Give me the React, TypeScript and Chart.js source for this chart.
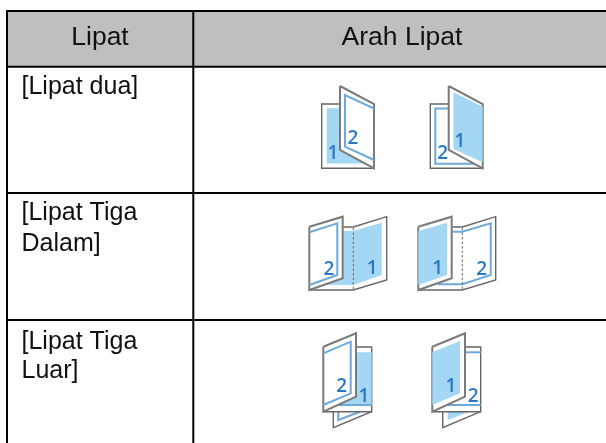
import React, { useEffect, useRef } from "react";
import { Chart, registerables } from "chart.js";

Chart.register(...registerables);

type P = [number, number];

const BLUE_FILL = "#a3d7f3";
const BLUE_LINE = "#6ea9d9";
const DIGIT = "#2b79c2";
const EDGE = "#666666";
const FLAP_EDGE = "#7a7a7a";
const WHITE = "#ffffff";

// Table
const headerBand: P[] = [[7, 11], [606, 11], [606, 66.8], [7, 66.8]];
const ruleRows: number[] = [11, 66.8, 193, 320];
const ruleCols: number[] = [7, 193.3];

const headers = [
  { text: "Lipat", x: 100, y: 45 },
  { text: "Arah Lipat", x: 402, y: 45 },
];
const rowLabels = [
  { text: "[Lipat dua]", x: 21.5, y: 94 },
  { text: "[Lipat Tiga", x: 21.5, y: 220 },
  { text: "Dalam]", x: 21.5, y: 250.5 },
  { text: "[Lipat Tiga", x: 21.5, y: 348.5 },
  { text: "Luar]", x: 21.5, y: 378 },
];
const digits = [
  { text: "2", x: 353, y: 144.3 },
  { text: "1", x: 333, y: 159 },
  { text: "1", x: 460, y: 146.7 },
  { text: "2", x: 442.7, y: 159 },
  { text: "2", x: 329, y: 275 },
  { text: "1", x: 372.3, y: 274 },
  { text: "1", x: 437.7, y: 274 },
  { text: "2", x: 481.7, y: 275 },
  { text: "2", x: 341.7, y: 392.3 },
  { text: "1", x: 364, y: 401.7 },
  { text: "1", x: 451, y: 392.3 },
  { text: "2", x: 473.3, y: 401.7 },
];

// Row 1, left
const d1Back: P[] = [[340, 104], [321.7, 104], [321.7, 168.3], [374, 168.3]];
const d1Fill: P[] = [[326.7, 108.3], [340, 108.3], [340, 150], [370, 163.5], [326.7, 163.5]];
const d1Flap: P[] = [[340, 86], [374, 104], [374, 168.3], [340, 150], [340, 86]];
const d1Inner: P[] = [[374, 108.5], [345, 95], [345, 146.7], [374, 160]];
// Row 1, right
const d2Back: P[] = [[449, 104], [430.3, 104], [430.3, 168.3], [482.7, 168.3]];
const d2Inner: P[] = [[449, 108.5], [435.3, 108.5], [435.3, 163.7], [479, 163.7]];
const d2Flap: P[] = [[448.7, 86], [482.7, 104], [482.7, 168.3], [448.7, 150], [448.7, 86]];
const d2Fill: P[] = [[453.5, 92.3], [482.7, 106.7], [482.7, 162.3], [453.5, 149]];
// Row 2, left
const d3Back: P[] = [[343.3, 227], [353.3, 227], [386.7, 216.7], [386.7, 280], [353.3, 290], [309.3, 290]];
const d3Fill: P[] = [[343.3, 231], [353.3, 231], [381.7, 222.7], [381.7, 275], [353.3, 285], [323.3, 285], [343.3, 277]];
const d3Fold: P[] = [[353.3, 228], [353.3, 290]];
const d3Flap: P[] = [[309.3, 226.7], [342.7, 216.7], [342.7, 278.3], [309.3, 290], [309.3, 226.7]];
const d3Inner: P[] = [[309.3, 232.3], [337.3, 223.3], [337.3, 275], [309.3, 285]];
// Row 2, right
const d4Back: P[] = [[452.3, 227], [462.3, 227], [495.7, 216.7], [495.7, 280], [462.3, 290], [418.3, 290]];
const d4Inner: P[] = [[452, 231.7], [462.3, 231.7], [490.7, 223.3], [490.7, 275], [462.3, 284.3], [438, 284.3]];
const d4Fold: P[] = [[462.3, 228], [462.3, 290]];
const d4Flap: P[] = [[418.3, 226.7], [451.7, 216.7], [451.7, 278.3], [418.3, 290], [418.3, 226.7]];
const d4Fill: P[] = [[418.3, 231], [447, 222.7], [447, 275], [418.3, 285]];
// Row 3, left
const d5Back: P[] = [[356, 347], [371.7, 347], [371.7, 411.7], [323.3, 411.7]];
const d5Fill: P[] = [[356, 352.3], [371.7, 352.3], [371.7, 405], [333.3, 405], [356, 395]];
const d5LowLine: P[] = [[336, 405], [371.7, 405]];
const d5Lower: P[] = [[333.3, 411.7], [333.3, 427.7], [371.7, 411.7]];
const d5LowerInner: P[] = [[338.3, 411.7], [338.3, 420], [360, 411.7]];
const d5Flap: P[] = [[323.3, 346.7], [356, 333.3], [356, 396.7], [323.3, 411.7], [323.3, 346.7]];
const d5Inner: P[] = [[323.3, 353.3], [350.7, 341.7], [350.7, 393.3], [323.3, 405]];
// Row 3, right
const d6Back: P[] = [[465, 347], [480.7, 347], [480.7, 411.7], [432.3, 411.7]];
const d6TopLine: P[] = [[465.7, 352.3], [480.7, 352.3]];
const d6LowLine: P[] = [[440, 405], [480.7, 405]];
const d6Lower: P[] = [[442.7, 411.7], [442.7, 427.7], [480.7, 411.7]];
const d6LowerFill: P[] = [[447.7, 411.7], [447.7, 420], [469.3, 411.7]];
const d6Flap: P[] = [[432.3, 346.7], [465, 333.3], [465, 396.7], [432.3, 411.7], [432.3, 346.7]];
const d6Fill: P[] = [[432.3, 352.3], [460, 341], [460, 393.3], [432.3, 405]];

type Style = { fill?: string; stroke?: string; width?: number; dash?: number[] };

const toPts = (p: P[]) => p.map(([x, y]) => ({ x, y }));

const back: Style = { fill: WHITE, stroke: EDGE, width: 1.4 };
const flap: Style = { fill: WHITE, stroke: FLAP_EDGE, width: 2 };
const blue: Style = { fill: BLUE_FILL };
const inner: Style = { stroke: BLUE_LINE, width: 2 };
const fold: Style = { stroke: EDGE, width: 1, dash: [2.5, 2] };

const layers: [P[], Style][] = [
  [headerBand, { fill: "#bfbfbf" }],

  [d1Back, back],
  [d1Fill, blue],
  [d1Flap, flap],
  [d1Inner, inner],

  [d2Back, back],
  [d2Inner, inner],
  [d2Flap, flap],
  [d2Fill, blue],

  [d3Back, back],
  [d3Fill, blue],
  [d3Fold, fold],
  [d3Flap, flap],
  [d3Inner, inner],

  [d4Back, back],
  [d4Inner, inner],
  [d4Fold, fold],
  [d4Flap, flap],
  [d4Fill, blue],

  [d5Lower, back],
  [d5LowerInner, inner],
  [d5Back, back],
  [d5Fill, blue],
  [d5LowLine, inner],
  [d5Flap, flap],
  [d5Inner, inner],

  [d6Lower, back],
  [d6LowerFill, blue],
  [d6Back, back],
  [d6TopLine, inner],
  [d6LowLine, inner],
  [d6Flap, flap],
  [d6Fill, blue],

  ...ruleRows.map((y): [P[], Style] => [[[7, y], [606, y]], { stroke: "#000000", width: 2 }]),
  ...ruleCols.map((x): [P[], Style] => [[[x, 10], [x, 443]], { stroke: "#000000", width: 2 }]),
];

const textPlugin = {
  id: "tableText",
  afterDatasetsDraw(chart: any) {
    const { ctx, scales } = chart;
    const put = (list: { text: string; x: number; y: number }[], font: string, color: string, align: CanvasTextAlign) => {
      ctx.save();
      ctx.font = font;
      ctx.fillStyle = color;
      ctx.textAlign = align;
      ctx.textBaseline = "alphabetic";
      for (const t of list) ctx.fillText(t.text, scales.x.getPixelForValue(t.x), scales.y.getPixelForValue(t.y));
      ctx.restore();
    };
    put(headers, '26.5px "Liberation Sans"', "#111111", "center");
    put(rowLabels, '25px "Liberation Sans"', "#111111", "left");
    put(digits, '600 19px "Open Sans"', DIGIT, "center");
  },
};

export default function App() {
  const ref = useRef<HTMLCanvasElement>(null);
  useEffect(() => {
    const chart = new Chart(ref.current!, {
      type: "scatter",
      data: {
        datasets: layers.map(([pts, s], i) => ({
          data: toPts(pts),
          showLine: true,
          pointRadius: 0,
          tension: 0,
          fill: s.fill ? "shape" : false,
          backgroundColor: s.fill ?? "transparent",
          borderColor: s.stroke ?? "transparent",
          borderWidth: s.stroke ? s.width ?? 1 : 0,
          borderDash: s.dash ?? [],
          borderJoinStyle: "miter",
          order: layers.length - i,
        })),
      } as any,
      options: {
        responsive: false,
        animation: false,
        layout: { padding: 0 },
        plugins: { legend: { display: false }, tooltip: { enabled: false }, title: { display: false } },
        scales: {
          x: { type: "linear", display: false, min: 0, max: 606 },
          y: { type: "linear", display: false, min: 0, max: 443, reverse: true },
        },
      },
      plugins: [textPlugin],
    });
    return () => chart.destroy();
  }, []);
  return (
    <canvas
      ref={ref}
      width={606}
      height={443}
      style={{ position: "fixed", left: 0, top: 0, width: 606, height: 443, display: "block", background: "#ffffff" }}
    />
  );
}
